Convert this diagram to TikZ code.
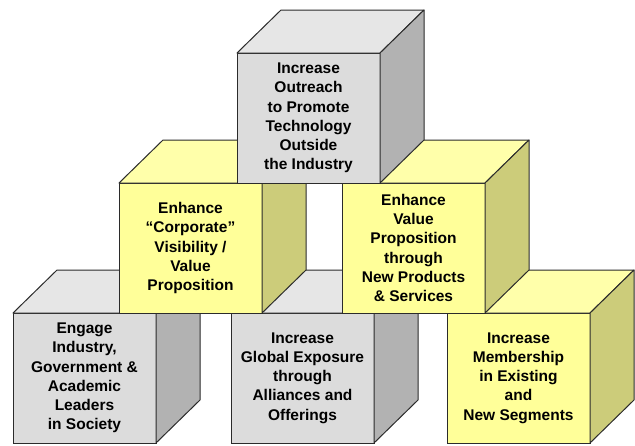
\documentclass[tikz,border=0pt]{standalone}
\usepackage{fontspec}
\setmainfont{Liberation Sans}
\usetikzlibrary{positioning}

% face colours
\definecolor{greyfront}{HTML}{DCDCDC}
\definecolor{greytop}{HTML}{E6E6E6}
\definecolor{greyside}{HTML}{B2B2B2}
\definecolor{yellowfront}{HTML}{FFFF99}
\definecolor{yellowtop}{HTML}{FFFFAA}
\definecolor{yellowside}{HTML}{CCCC7A}
\definecolor{edge}{HTML}{2B2B2B}

\tikzset{
  front/.style = {draw=edge, line width=1pt, rectangle, inner sep=0pt, outer sep=0pt,
                  minimum width=143pt, minimum height=130pt, align=center,
                  font=\fontsize{15.5}{19.3}\selectfont\bfseries},
  faceline/.style = {draw=edge, line width=1pt, line join=round}
}

% #1 name, #2 centre of front face, #3 colour family, #4 text
\newcommand{\cube}[4]{%
  \node[front, fill=#3front] (#1) at (#2) {#4};
  \path[faceline, fill=#3top] (#1.north west) -- ++(44pt,43pt) -- ++(143pt,0pt)
       -- (#1.north east) -- cycle;
  \path[faceline, fill=#3side] (#1.north east) -- ++(44pt,43pt) -- ++(0pt,-130pt)
       -- (#1.south east) -- cycle;
}

\begin{document}
\begin{tikzpicture}[x=1pt, y=1pt]
\useasboundingbox (0,0) rectangle (635,-445);

% bottom row
\cube{engage}{84.5,-378}{grey}{Engage\\Industry,\\Government \&\\Academic\\Leaders\\in Society}
\cube{exposure}{302.5,-378}{grey}{Increase\\Global Exposure\\through\\Alliances and\\Offerings}
\cube{membership}{518.5,-378}{yellow}{Increase\\Membership\\in Existing\\and\\New Segments}

% middle row
\cube{visibility}{190.5,-248}{yellow}{Enhance\\“Corporate”\\Visibility /\\Value\\Proposition}
\cube{products}{413.5,-248}{yellow}{Enhance\\Value\\Proposition\\through\\New Products\\\& Services}

% top
\cube{outreach}{308.5,-118}{grey}{Increase\\Outreach\\to Promote\\Technology\\Outside\\the Industry}
\end{tikzpicture}
\end{document}
